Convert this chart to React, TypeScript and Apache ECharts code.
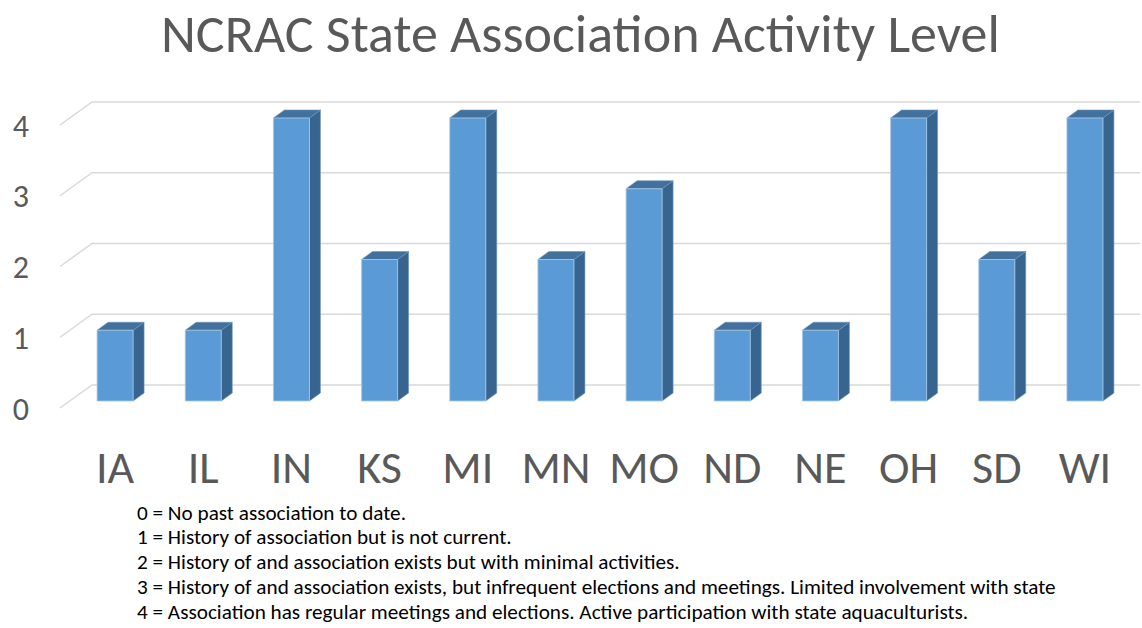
import React, { useEffect, useRef } from "react";
import * as echarts from "echarts";

const categories = ["IA", "IL", "IN", "KS", "MI", "MN", "MO", "ND", "NE", "OH", "SD", "WI"];
const activityLevel = [1, 1, 4, 2, 4, 2, 3, 1, 1, 4, 2, 4];
const yTicks = [0, 1, 2, 3, 4];
const notes = [
  "0 = No past association to date.",
  "1 = History of association but is not current.",
  "2 = History of and association exists but with minimal activities.",
  "3 = History of and association exists, but infrequent elections and meetings. Limited involvement with state",
  "4 = Association has regular meetings and elections. Active participation with state aquaculturists.",
];
const titleText = "NCRAC State Association Activity Level";

const FONT = "Carlito, 'Open Sans', sans-serif";
const TEXT = "#595959";

export default function App() {
  const ref = useRef<HTMLDivElement>(null);
  useEffect(() => {
    if (!ref.current) return;
    const chart = echarts.init(ref.current, undefined, { renderer: "svg" });
    const depthX = 11;
    const depthY = -8;
    const halfW = 18;
    chart.setOption({
      animation: false,
      backgroundColor: "#ffffff",
      title: {
        text: titleText,
        left: 156,
        top: 2,
        textStyle: { fontFamily: FONT, fontSize: 54, fontWeight: "normal", color: TEXT },
      },
      grid: { left: 71, right: 13, top: 118, bottom: 227, containLabel: false },
      xAxis: {
        type: "category",
        data: categories,
        axisLine: { show: false },
        axisTick: { show: false },
        axisLabel: { fontFamily: FONT, fontSize: 46, color: TEXT, margin: 43, interval: 0 },
        splitLine: { show: false },
      },
      yAxis: {
        type: "value",
        min: 0,
        max: 4,
        interval: 1,
        axisLine: { show: false },
        axisTick: { show: false },
        splitLine: { show: false },
        axisLabel: {
          fontFamily: FONT,
          fontSize: 32,
          color: TEXT,
          margin: 42,
          verticalAlign: "top",
          lineHeight: 16,
        },
      },
      series: [
        {
          type: "custom",
          z: 1,
          silent: true,
          clip: false,
          data: yTicks.map((v) => [0, v]),
          renderItem: (params: any, api: any) => {
            const y = api.coord([0, api.value(1)])[1];
            const gx = params.coordSys.x;
            return {
              type: "polyline",
              shape: {
                points: [
                  [gx - 11, y + 7],
                  [gx + 21, y - 16],
                  [1140, y - 16],
                ],
              },
              style: { stroke: "#D9D9D9", lineWidth: 1.5, fill: "none" },
            };
          },
        },
        {
          type: "custom",
          z: 2,
          clip: false,
          data: activityLevel.map((v, i) => [i, v]),
          renderItem: (params: any, api: any) => {
            const idx = api.value(0);
            const v = api.value(1);
            const p0 = api.coord([idx, 0]);
            const p1 = api.coord([idx, v]);
            const cx = p0[0];
            const l = cx - halfW;
            const r = cx + halfW;
            const top = p1[1];
            const bot = p0[1];
            return {
              type: "group",
              children: [
                {
                  type: "polygon",
                  shape: { points: [[r, top], [r + depthX, top + depthY], [r + depthX, bot + depthY], [r, bot]] },
                  style: { fill: "#386590", stroke: "#6F93B5", lineWidth: 0.6 },
                },
                {
                  type: "polygon",
                  shape: { points: [[l, top], [l + depthX, top + depthY], [r + depthX, top + depthY], [r, top]] },
                  style: { fill: "#41719C", stroke: "#6F93B5", lineWidth: 0.6 },
                },
                {
                  type: "rect",
                  shape: { x: l, y: top, width: r - l, height: bot - top },
                  style: { fill: "#5B9BD5", stroke: "#A9C8E6", lineWidth: 0.8 },
                },
              ],
            };
          },
        },
      ],
      graphic: notes.map((t, i) => ({
        type: "text",
        left: 137,
        top: 502 + i * 24.75,
        style: { text: t, fontFamily: FONT, fontSize: 21.2, fill: "#000000" },
      })),
    });
    return () => chart.dispose();
  }, []);
  return <div ref={ref} style={{ width: 1142, height: 628, position: "absolute", left: 0, top: 0 }} />;
}
